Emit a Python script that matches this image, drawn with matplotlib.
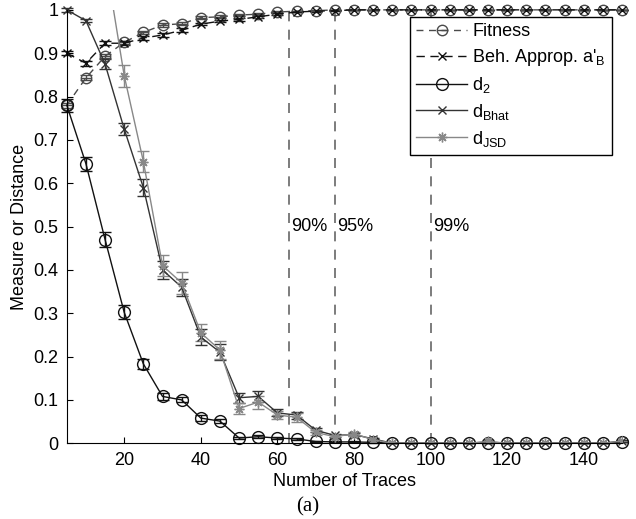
import numpy as np
import matplotlib
matplotlib.use("Agg")
from matplotlib import pyplot as plt
from matplotlib.legend_handler import HandlerTuple

plt.rcParams['font.family'] = ['Liberation Sans', 'DejaVu Sans']
plt.rcParams['mathtext.fontset'] = 'custom'
plt.rcParams['mathtext.rm'] = 'Liberation Sans'
plt.rcParams['mathtext.it'] = 'Liberation Sans:italic'

# ----- data -----
traces = [5, 10, 15, 20, 25, 30, 35, 40, 45, 50, 55, 60, 65, 70, 75,
          80, 85, 90, 95, 100, 105, 110, 115, 120, 125, 130, 135, 140, 145, 150]

fitness = [0.78, 0.843, 0.893, 0.925, 0.948, 0.965, 0.968, 0.982, 0.984, 0.988,
           0.990, 0.995, 0.997, 0.998, 1.0, 1.0, 1.0, 1.0, 1.0, 1.0,
           1.0, 1.0, 1.0, 1.0, 1.0, 1.0, 1.0, 1.0, 1.0, 1.0]
fitness_err = [0.006, 0.006, 0.005, 0.004, 0.004, 0.004, 0.004, 0.003, 0.003, 0.003,
               0.002, 0.002, 0.001, 0.001, 0, 0, 0, 0, 0, 0,
               0, 0, 0, 0, 0, 0, 0, 0, 0, 0]

beh = [0.90, 0.877, 0.923, 0.923, 0.935, 0.942, 0.953, 0.967, 0.974, 0.978,
       0.984, 0.990, 0.995, 0.997, 0.998, 1.0, 1.0, 1.0, 1.0, 1.0,
       1.0, 1.0, 1.0, 1.0, 1.0, 1.0, 1.0, 1.0, 1.0, 1.0]
beh_err = [0.004, 0.006, 0.005, 0.004, 0.004, 0.004, 0.004, 0.003, 0.003, 0.003,
           0.002, 0.002, 0.001, 0.001, 0.001, 0, 0, 0, 0, 0,
           0, 0, 0, 0, 0, 0, 0, 0, 0, 0]

d2 = [0.78, 0.645, 0.47, 0.302, 0.183, 0.108, 0.100, 0.058, 0.051, 0.012,
      0.015, 0.012, 0.010, 0.004, 0.003, 0.003, 0.002, 0.0, 0.0, 0.0,
      0.0, 0.0, 0.0, 0.0, 0.0, 0.0, 0.0, 0.0, 0.0, 0.002]
d2_err = [0.015, 0.016, 0.018, 0.016, 0.012, 0.008, 0.006, 0.006, 0.005, 0.003,
          0.003, 0.003, 0.002, 0.001, 0.001, 0.001, 0.001, 0, 0, 0,
          0, 0, 0, 0, 0, 0, 0, 0, 0, 0]

dbhat = [1.0, 0.975, 0.875, 0.725, 0.59, 0.40, 0.36, 0.245, 0.21, 0.105,
         0.108, 0.07, 0.065, 0.03, 0.018, 0.02, 0.01, 0.0, 0.0, 0.0,
         0.0, 0.0, 0.003, 0.0, 0.0, 0.0, 0.0, 0.0, 0.0, 0.005]
dbhat_err = [0.004, 0.004, 0.012, 0.014, 0.02, 0.02, 0.02, 0.018, 0.018, 0.012,
             0.012, 0.008, 0.008, 0.005, 0.004, 0.004, 0.003, 0, 0, 0,
             0, 0, 0.002, 0, 0, 0, 0, 0, 0, 0.002]

djsd = [1.6, 1.35, 1.12, 0.848, 0.65, 0.41, 0.37, 0.255, 0.215, 0.08,
        0.095, 0.065, 0.06, 0.025, 0.015, 0.022, 0.008, 0.0, 0.0, 0.0,
        0.0, 0.0, 0.004, 0.0, 0.0, 0.0, 0.0, 0.0, 0.0, 0.005]
djsd_err = [0.03, 0.03, 0.03, 0.025, 0.025, 0.025, 0.025, 0.02, 0.02, 0.012,
            0.015, 0.01, 0.01, 0.006, 0.005, 0.005, 0.004, 0, 0, 0,
            0, 0, 0.003, 0, 0, 0, 0, 0, 0, 0.003]

thresholds = [63, 75, 100]
threshold_labels = ['90%', '95%', '99%']

labels = ['Fitness', r"Beh. Approp. a$'_{\rm B}$", r'd$_2$',
          r'd$_{\rm Bhat}$', r'd$_{\rm JSD}$']

# ----- figure -----
fig = plt.figure(figsize=(6.36, 5.19), dpi=100)
ax = fig.add_axes([0.105, 0.146, 0.873, 0.835])

FS = 13
asterisk = (8, 2, 0)

# (values, errors, marker, colour, linestyle, markersize, clip)
series = [
    (fitness, fitness_err, 'o', '#4a4a4a', (0, (5, 4)), 7.5, False),
    (beh, beh_err, 'x', '#111111', (0, (6, 4)), 6, False),
    (d2, d2_err, 'o', '#111111', '-', 8.5, False),
    (dbhat, dbhat_err, 'x', '#333333', '-', 6, False),
    (djsd, djsd_err, asterisk, '#888888', '-', 7, True),
]

handles = []
for y, err, mk, col, ls, ms, clip in series:
    eb = ax.errorbar(traces, y, yerr=err, marker=mk, color=col, ls=ls, lw=1.0,
                     ms=ms, mfc='none', mec=col, mew=1.0, capsize=4,
                     elinewidth=1.0, capthick=1.0)
    eb.lines[0].set_clip_on(clip)
    for c in eb.lines[1]:
        c.set_clip_on(clip)
    handles.append(eb.lines[0])

# horizontal bar inside the fitness circles
bar, = ax.plot(traces, fitness, ls='none', marker='_', ms=7.5, mew=1.0,
               color='#4a4a4a', clip_on=False)
handles[0] = (handles[0], bar)

for xv, lab in zip(thresholds, threshold_labels):
    ax.axvline(xv, ymin=0, ymax=1, color='#666666', lw=1.2, ls=(0, (6, 5)))
    ax.text(xv + 0.6, 0.5, lab, fontsize=FS, ha='left', va='center')

ax.set_xlim(5, 150)
ax.set_ylim(0, 1)
ax.set_xticks([20, 40, 60, 80, 100, 120, 140])
yt = [0, 0.1, 0.2, 0.3, 0.4, 0.5, 0.6, 0.7, 0.8, 0.9, 1]
ax.set_yticks(yt)
ax.set_yticklabels(['0', '0.1', '0.2', '0.3', '0.4', '0.5', '0.6', '0.7', '0.8', '0.9', '1'])
ax.tick_params(direction='in', labelsize=FS, length=4, pad=6)
ax.spines['top'].set_visible(False)
ax.spines['right'].set_visible(False)
ax.set_xlabel('Number of Traces', fontsize=FS, labelpad=3)
ax.set_ylabel('Measure or Distance', fontsize=FS, labelpad=4)

leg = ax.legend(handles=handles, labels=labels, loc='upper right',
                bbox_to_anchor=(0.982, 0.984), borderaxespad=0,
                handler_map={tuple: HandlerTuple(ndivide=1)},
                fontsize=FS, frameon=True, fancybox=False, edgecolor='black',
                handlelength=2.8, labelspacing=0.38, borderpad=0.35,
                handletextpad=0.3, framealpha=1)
leg.get_frame().set_linewidth(1.0)
leg.set_zorder(5)

fig.text(0.483, 0.023, '(a)', fontsize=15, family='Liberation Serif',
         ha='center', va='center')

fig.savefig('out.png', dpi=100)
